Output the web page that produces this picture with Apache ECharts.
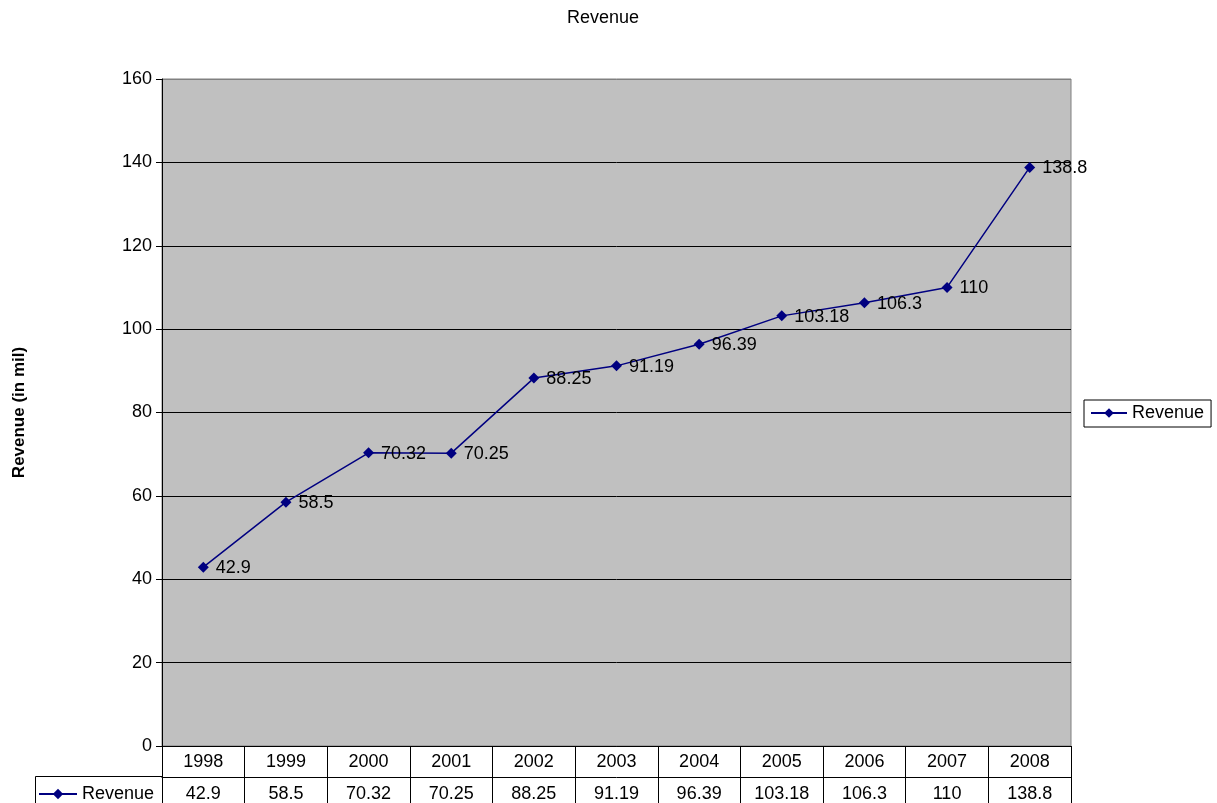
<!DOCTYPE html>
<html><head><meta charset="utf-8">
<script src="https://cdn.jsdelivr.net/npm/echarts@6/dist/echarts.min.js"></script>
<style>html,body{margin:0;padding:0;background:#fff}#c{width:1217px;height:803px}</style>
</head><body><div id="c"></div>
<script>
const categories = ['1998','1999','2000','2001','2002','2003','2004','2005','2006','2007','2008'];
const revenue = [42.9, 58.5, 70.32, 70.25, 88.25, 91.19, 96.39, 103.18, 106.3, 110, 138.8];
const seriesName = 'Revenue';
const yMin = 0, yMax = 160, yStep = 20;

const FONT = "'Liberation Sans', Arial, sans-serif";
const FS = 18;
const navy = '#000080';
const chart = echarts.init(document.getElementById('c'));
chart.setOption({
  animation: false,
  backgroundColor: '#fff',
  textStyle: { fontFamily: FONT, color: '#000' },
  title: { text: 'Revenue', left: 567, top: 9, padding: 0, textStyle: { fontSize: FS, fontWeight: 'normal', color: '#000', fontFamily: FONT } },
  grid: { left: 162, right: 146, top: 79, bottom: 57, show: true, backgroundColor: '#C0C0C0', borderColor: '#808080', borderWidth: 1 },
  legend: [
    { data: [seriesName], left: 1084, top: 400, orient: 'vertical', borderColor: '#000', borderWidth: 1, padding: [4, 7, 5, 6],
      itemWidth: 36, itemHeight: 12, itemGap: 0, textStyle: { fontSize: FS, color: '#000', fontFamily: FONT } },
    { data: [seriesName], left: 38, top: 785, padding: 0,
      itemWidth: 38, itemHeight: 13, textStyle: { fontSize: FS, color: '#000', fontFamily: FONT } }
  ],
  xAxis: [
    { type: 'category', data: categories, position: 'bottom', boundaryGap: true,
      axisLine: { lineStyle: { color: '#000', width: 1 } },
      axisTick: { show: true, length: 60, interval: 0, lineStyle: { color: '#000' } },
      axisLabel: { fontSize: FS, color: '#000', margin: 7, interval: 0, fontFamily: FONT },
      splitLine: { show: false } },
    { type: 'category', data: categories, position: 'bottom', offset: 31, boundaryGap: true,
      axisLine: { lineStyle: { color: '#000', width: 1 } },
      axisTick: { show: false },
      axisLabel: { fontSize: FS, color: '#000', margin: 8, interval: 0, fontFamily: FONT,
        formatter: (v, i) => String(revenue[i]) },
      splitLine: { show: false } }
  ],
  yAxis: {
    type: 'value', min: yMin, max: yMax, interval: yStep,
    name: 'Revenue (in mil)', nameLocation: 'middle', nameGap: 134, nameRotate: 90,
    nameTextStyle: { fontSize: FS - 1, fontWeight: 'bold', color: '#000', fontFamily: FONT },
    axisLine: { show: true, lineStyle: { color: '#000' } },
    axisTick: { show: true, length: 6, lineStyle: { color: '#000' } },
    axisLabel: { fontSize: FS, color: '#000', margin: 10, fontFamily: FONT },
    splitLine: { show: true, lineStyle: { color: ['#000','#000','#000','#000','#000','#000','#000','#000','#808080'], width: 1 } }
  },
  graphic: [
    { type: 'rect', shape: { x: 35.5, y: 776.5, width: 127, height: 40 }, style: { fill: 'none', stroke: '#000', lineWidth: 1 }, z: 10 }
  ],
  series: [{
    name: seriesName, type: 'line', data: revenue, xAxisIndex: 0,
    symbol: 'diamond', symbolSize: [11, 11],
    itemStyle: { color: navy },
    lineStyle: { color: navy, width: 1.5 },
    label: { show: true, position: 'right', distance: 7, offset: [0, 1], fontSize: FS, color: '#000', fontFamily: FONT }
  }]
});
</script></body></html>
